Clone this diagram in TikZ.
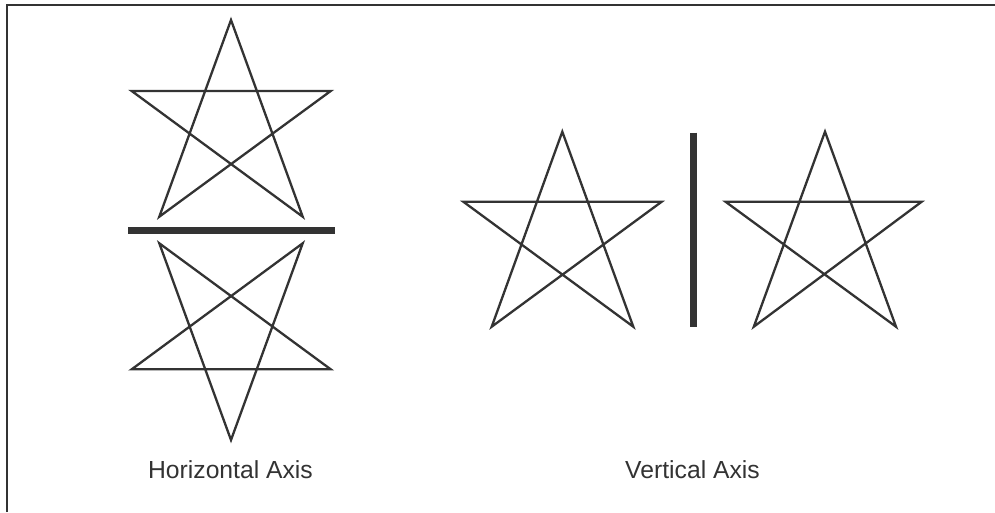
\documentclass[tikz,border=0pt]{standalone}
\usepackage{fontspec}
\setmainfont{Liberation Sans}
\definecolor{ink}{HTML}{333333}
\begin{document}
\begin{tikzpicture}[x=1pt,y=-1pt,
  starline/.style={draw=ink,line width=2.3pt,line join=miter},
  axisbar/.style={draw=ink,line width=6.5pt},
  frameline/.style={draw=ink,line width=1.5pt},
  caption/.style={text=ink,font=\fontsize{24.7}{29}\selectfont,inner sep=0pt,anchor=base}]
\useasboundingbox (0,0) rectangle (995,512);
\fill[white] (0,0) rectangle (995,512);
% frame (top and left edges)
\coordinate (fbl) at (7,512);
\coordinate (ftl) at (7,5);
\coordinate (ftr) at (995,5);
\draw[frameline] (fbl) -- (ftl) -- (ftr);
% upper star (horizontal axis)
\coordinate (a1) at (231,20);
\coordinate (a2) at (302.7,216.7);
\coordinate (a3) at (131.7,91);
\coordinate (a4) at (330.7,91);
\coordinate (a5) at (159.3,216.7);
\draw[starline] (a1) -- (a2) -- (a3) -- (a4) -- (a5) -- cycle;
% horizontal bar
\coordinate (hb1) at (128,230.5);
\coordinate (hb2) at (335,230.5);
\draw[axisbar] (hb1) -- (hb2);
% lower star (mirror)
\coordinate (b1) at (231,440);
\coordinate (b2) at (302.7,243.3);
\coordinate (b3) at (131.7,369.3);
\coordinate (b4) at (330.7,369.3);
\coordinate (b5) at (159.3,243.3);
\draw[starline] (b1) -- (b2) -- (b3) -- (b4) -- (b5) -- cycle;
% left star (vertical axis)
\coordinate (c1) at (562.3,131.7);
\coordinate (c2) at (633.3,326.7);
\coordinate (c3) at (463.3,201.7);
\coordinate (c4) at (661.7,201.7);
\coordinate (c5) at (491.7,326.7);
\draw[starline] (c1) -- (c2) -- (c3) -- (c4) -- (c5) -- cycle;
% vertical bar
\coordinate (vb1) at (693.7,132.7);
\coordinate (vb2) at (693.7,327.3);
\draw[axisbar] (vb1) -- (vb2);
% right star (mirror)
\coordinate (d1) at (825,131.7);
\coordinate (d2) at (896,326.7);
\coordinate (d3) at (725.5,201.7);
\coordinate (d4) at (921.7,201.7);
\coordinate (d5) at (753.8,326.7);
\draw[starline] (d1) -- (d2) -- (d3) -- (d4) -- (d5) -- cycle;
% captions
\node[caption] (hcap) at (230.5,478) {Horizontal Axis};
\node[caption] (vcap) at (692.5,478) {Vertical Axis};
\end{tikzpicture}
\end{document}
